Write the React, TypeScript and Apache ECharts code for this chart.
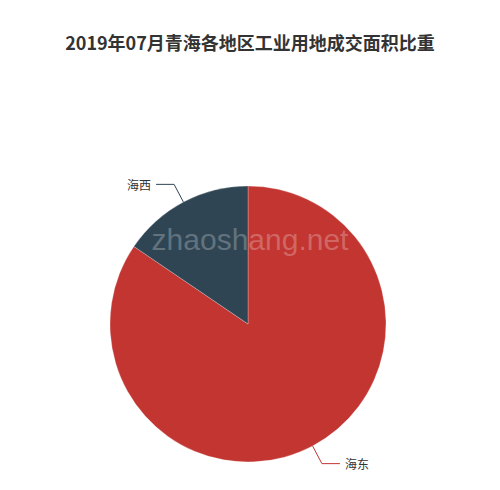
import React, { useEffect, useRef } from 'react';
import * as echarts from 'echarts';

const titleText = '2019年07月青海各地区工业用地成交面积比重';
const regions = ['海东', '海西'];
const shares = [84.5, 15.5];
const colors = ['#c23531', '#2f4554'];

const App: React.FC = () => {
  const chartRef = useRef<HTMLDivElement | null>(null);

  useEffect(() => {
    document.body.style.margin = '0';
    if (!chartRef.current) return;
    const myChart = echarts.init(chartRef.current, null, { renderer: 'svg' });

    const option = {
      animation: false,
      color: colors,
      title: {
        text: titleText,
        left: 'center',
        top: 28,
        textStyle: {
          fontSize: 18,
          fontWeight: 'bold',
          color: '#333',
          fontFamily: '"Noto Sans CJK SC", sans-serif',
        },
      },
      graphic: [
        {
          type: 'text',
          left: 'center',
          top: 224,
          z: 100,
          style: {
            text: 'zhaoshang.net',
            fontSize: 30,
            fontFamily: '"Liberation Sans", Arial, sans-serif',
            fill: 'rgba(255,255,255,0.25)',
          },
        },
      ],
      series: [
        {
          type: 'pie',
          center: ['49.6%', 324],
          radius: 138,
          startAngle: 90,
          data: regions.map((name, i) => ({ name, value: shares[i] })),
          itemStyle: {
            borderColor: 'rgba(255,255,255,0.5)',
            borderWidth: 0.5,
          },
          label: {
            fontSize: 12,
            fontFamily: '"Noto Sans CJK SC", sans-serif',
          },
          labelLine: {
            length: 20,
            length2: 18,
          },
        },
      ],
    };

    myChart.setOption(option);

    return () => {
      myChart.dispose();
    };
  }, []);

  return <div ref={chartRef} style={{ width: '500px', height: '490px' }} />;
};

export default App;
